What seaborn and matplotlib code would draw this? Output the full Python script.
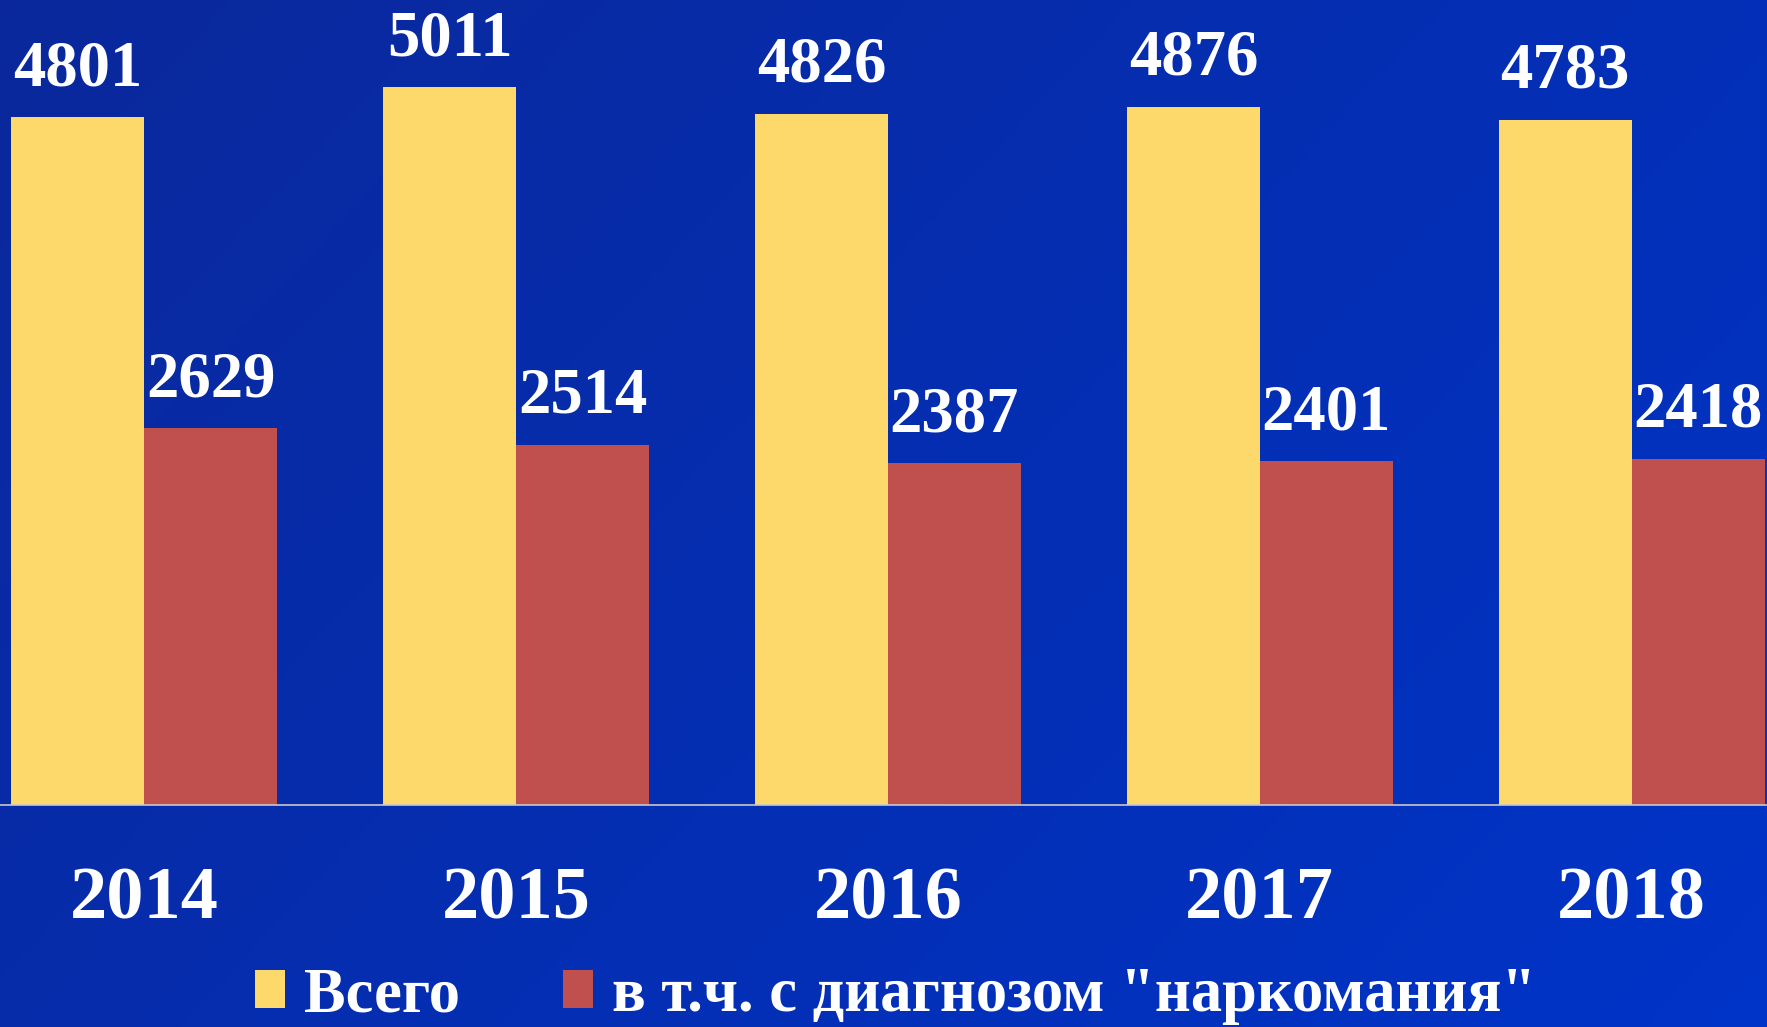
import numpy as np
import pandas as pd
import matplotlib
matplotlib.use('Agg')
import matplotlib.pyplot as plt
import seaborn as sns

years = ['2014', '2015', '2016', '2017', '2018']
total = [4801, 5011, 4826, 4876, 4783]
narco = [2629, 2514, 2387, 2401, 2418]
series_names = ['Всего', 'в т.ч. с диагнозом "наркомания"']
colors = ['#FDD86A', '#C0504D']

df = pd.DataFrame({
    'year': years * 2,
    'value': total + narco,
    'series': [series_names[0]] * len(years) + [series_names[1]] * len(years),
})

sns.set_theme(style='white')
plt.rcParams['font.family'] = ['Liberation Serif', 'DejaVu Serif']

fig = plt.figure(figsize=(17.67, 10.27), dpi=100)

# gradient background
bg = fig.add_axes([0, 0, 1, 1], zorder=0)
ny, nx = 200, 350
yy, xx = np.mgrid[0:1:ny * 1j, 0:1:nx * 1j]
t = 0.65 * xx + 0.35 * yy
c0 = np.array([10, 40, 155]) / 255
c1 = np.array([0, 52, 200]) / 255
img = c0[None, None, :] * (1 - t[..., None]) + c1[None, None, :] * t[..., None]
bg.imshow(img, aspect='auto', extent=[0, 1, 0, 1], origin='upper')
bg.axis('off')

ax = fig.add_axes([0, 0.2162, 1, 0.7838], zorder=1)
ax.set_facecolor('none')
sns.barplot(data=df, x='year', y='value', hue='series', palette=colors,
            width=0.715, gap=0, ax=ax, errorbar=None, saturation=1,
            linewidth=0, edgecolor='none')

ax.set_ylim(0, 5620)
ax.set_xlim(-0.388, 4.364)
for c in ax.containers:
    ax.bar_label(c, padding=13, fontsize=46.5, fontweight='bold', color='white')

for s in ['top', 'left', 'right']:
    ax.spines[s].set_visible(False)
ax.spines['bottom'].set_color('#c8c8c8')
ax.spines['bottom'].set_linewidth(1.2)
ax.set_yticks([])
ax.set_xlabel('')
ax.set_ylabel('')
ax.tick_params(axis='x', length=0, pad=44, labelsize=53.5, labelcolor='white')
for lbl in ax.get_xticklabels():
    lbl.set_fontweight('bold')

handles, labels = ax.get_legend_handles_labels()
ax.get_legend().remove()
fig.legend(handles, labels, loc='center', bbox_to_anchor=(0.507, 0.03), ncol=2,
           frameon=False, prop={'size': 45, 'weight': 'bold'}, labelcolor='white',
           handlelength=0.48, handleheight=0.55, handletextpad=0.3, columnspacing=1.65,
           borderpad=0.1)

fig.savefig('out.png', dpi=100)
